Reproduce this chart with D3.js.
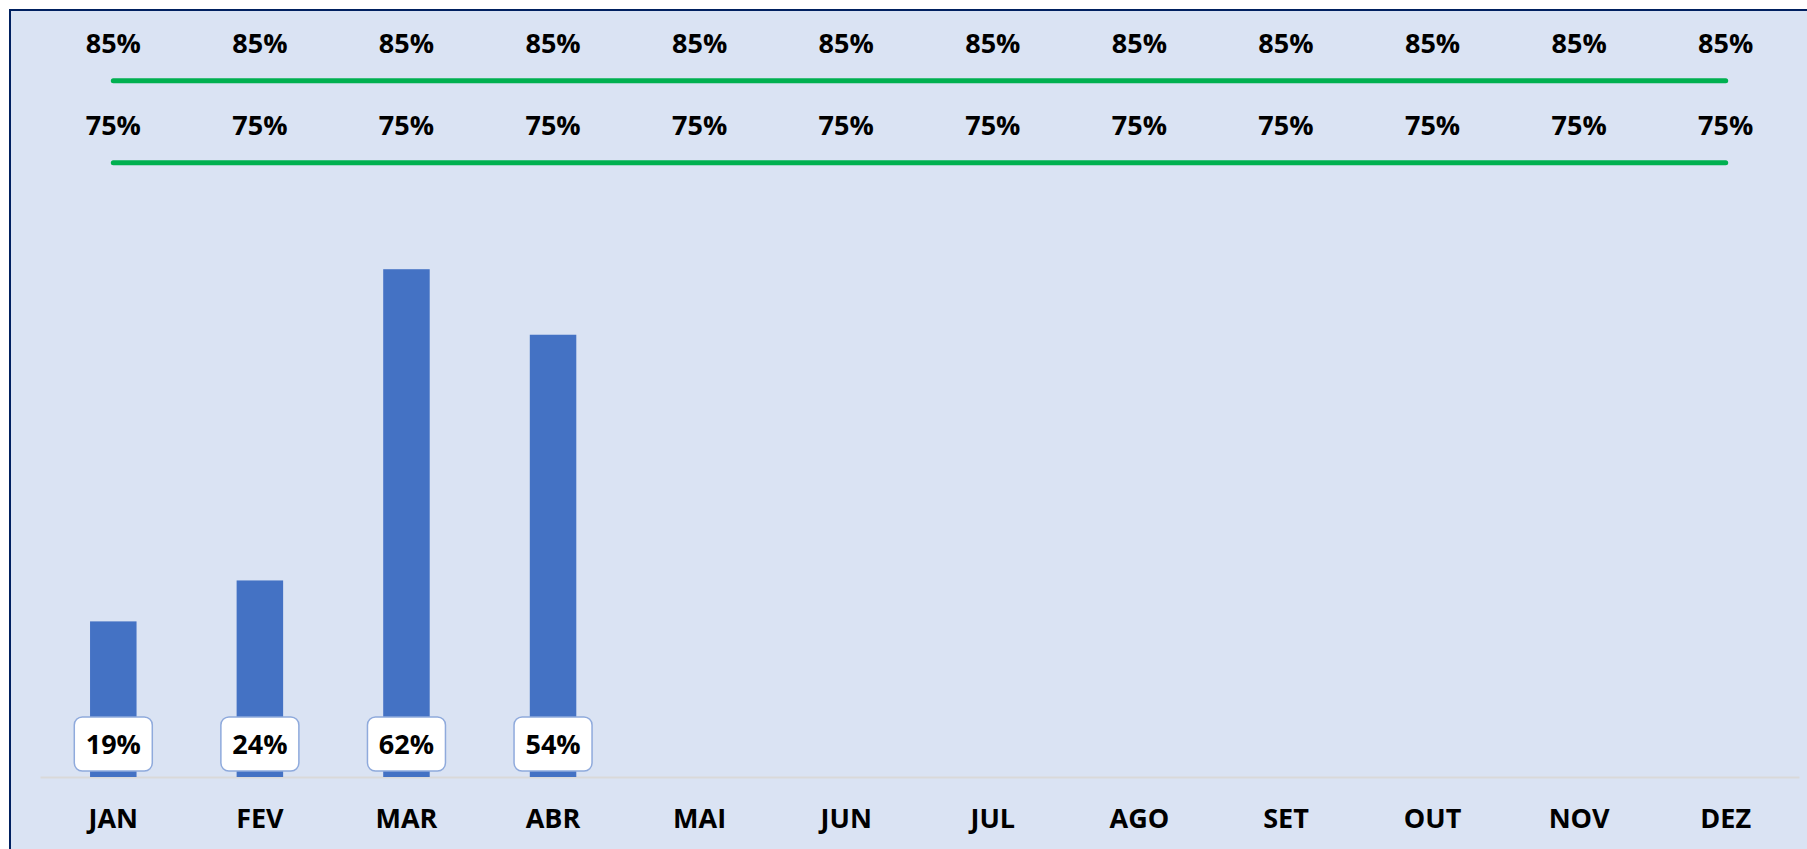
<!DOCTYPE html>
<html>
    <head>
        <meta charset="utf-8">
        <title>Realizado x Meta</title>
        <script src="https://d3js.org/d3.v7.min.js"></script>
        <style>
            body { margin: 0; background: #fff; }
            text { font-family: "Open Sans", "Noto Sans", sans-serif; font-weight: bold; font-size: 27px; fill: #000; }
        </style>
    </head>
    <body>
        <div id="viz"></div>
    </body>
    <script>
        // dados
        let meses = ['JAN','FEV','MAR','ABR','MAI','JUN','JUL','AGO','SET','OUT','NOV','DEZ'];
        let realizado = [0.19, 0.24, 0.62, 0.54];
        let meta85 = [0.85, 0.85, 0.85, 0.85, 0.85, 0.85, 0.85, 0.85, 0.85, 0.85, 0.85, 0.85];
        let meta75 = [0.75, 0.75, 0.75, 0.75, 0.75, 0.75, 0.75, 0.75, 0.75, 0.75, 0.75, 0.75];

        let width = 1807,
            height = 849;

        let svg = d3.select('#viz')
                    .append('svg')
                    .attr('width', width)
                    .attr('height', height);

        // fundo do grafico
        svg.append('rect')
            .attr('x', 10)
            .attr('y', 10)
            .attr('width', width)
            .attr('height', height)
            .style('fill', '#DAE3F3')
            .style('stroke', '#002060')
            .style('stroke-width', 2);

        let x = d3.scaleBand()
            .domain(meses)
            .range([40, 1799])
            .padding(0);

        let y = d3.scaleLinear()
            .domain([0, 1])
            .range([777, -42]);

        let cx = d => x(d) + x.bandwidth() / 2;
        let barW = 46.5;

        // eixo x
        let eixo = svg.append('g')
            .attr('transform', `translate(0,${y(0)})`)
            .call(d3.axisBottom(x).tickSize(0).tickSizeOuter(0));
        eixo.select('.domain')
            .style('stroke', '#D9D9D9')
            .style('stroke-width', 2);
        eixo.selectAll('text')
            .attr('y', 51)
            .attr('dy', 0)
            .style('font-family', '"Open Sans", "Noto Sans", sans-serif')
            .style('font-size', '27px')
            .style('font-weight', 'bold')
            .style('fill', '#000');

        // barras
        let bar = svg.selectAll('.bar-group')
            .data(realizado)
            .enter()
            .append('g')
            .attr('class', 'bar-group');

        bar.append('rect')
            .attr('x', (d, i) => cx(meses[i]) - barW / 2)
            .attr('y', d => y(d))
            .attr('width', barW)
            .attr('height', d => y(0) - y(d))
            .style('fill', '#4472C4');

        bar.append('rect')
            .attr('x', (d, i) => cx(meses[i]) - 39)
            .attr('y', y(0) - 60)
            .attr('width', 78)
            .attr('height', 54)
            .attr('rx', 8)
            .style('fill', '#fff')
            .style('stroke', '#8FAADC')
            .style('stroke-width', 1.5);

        bar.append('text')
            .attr('x', (d, i) => cx(meses[i]))
            .attr('y', y(0) - 23)
            .attr('text-anchor', 'middle')
            .text(d => Math.round(d * 100) + '%');

        // linhas de meta
        let line = d3.line()
            .x((d, i) => cx(meses[i]))
            .y(d => y(d));

        [meta85, meta75].forEach(serie => {
            svg.append('path')
                .datum(serie)
                .attr('d', line)
                .style('fill', 'none')
                .style('stroke', '#00B050')
                .style('stroke-width', 5)
                .style('stroke-linecap', 'round');

            svg.selectAll(null)
                .data(serie)
                .enter()
                .append('text')
                .attr('x', (d, i) => cx(meses[i]))
                .attr('y', d => y(d) - 28)
                .attr('text-anchor', 'middle')
                .text(d => Math.round(d * 100) + '%');
        });
    </script>
</html>
